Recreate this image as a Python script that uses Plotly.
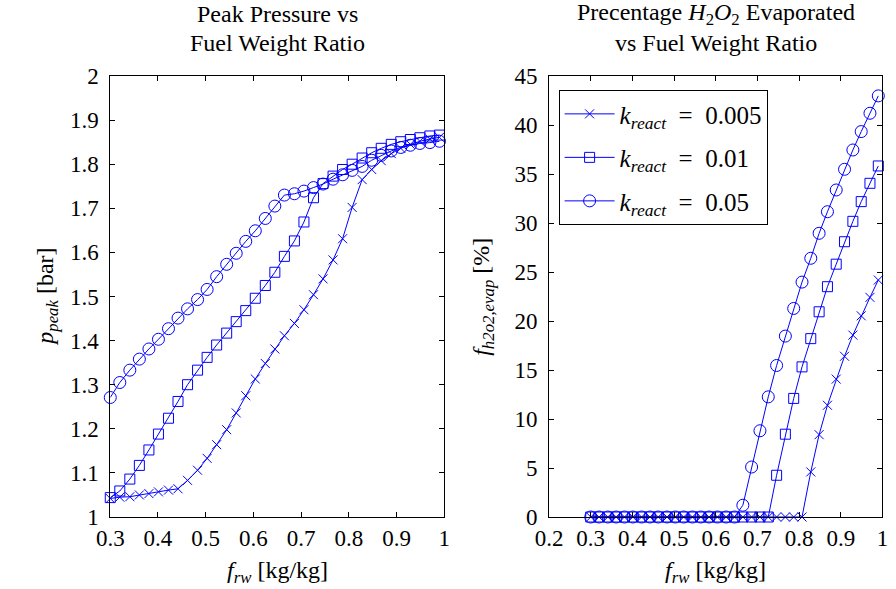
import plotly.graph_objects as go

# Fuel weight ratio grid shared by all runs
f_rw = [0.300, 0.320, 0.341, 0.361, 0.381, 0.401, 0.422, 0.442, 0.462, 0.483,
        0.503, 0.523, 0.544, 0.564, 0.584, 0.604, 0.625, 0.645, 0.665, 0.686,
        0.706, 0.726, 0.746, 0.767, 0.787, 0.807, 0.828, 0.848, 0.868, 0.889,
        0.909, 0.929, 0.949, 0.970, 0.990]

# Peak pressure [bar]
p_peak_k0005 = [1.042, 1.045, 1.046, 1.050, 1.053, 1.057, 1.061, 1.064, 1.083, 1.106,
                1.133, 1.164, 1.198, 1.236, 1.275, 1.313, 1.348, 1.381, 1.411, 1.439,
                1.470, 1.504, 1.540, 1.583, 1.631, 1.702, 1.765, 1.788, 1.808, 1.824,
                1.836, 1.845, 1.852, 1.857, 1.861]
p_peak_k001 = [1.044, 1.059, 1.086, 1.117, 1.152, 1.188, 1.224, 1.262, 1.300, 1.333,
               1.362, 1.390, 1.417, 1.443, 1.468, 1.496, 1.525, 1.555, 1.591, 1.626,
               1.669, 1.724, 1.756, 1.773, 1.788, 1.800, 1.814, 1.826, 1.836, 1.845,
               1.851, 1.856, 1.860, 1.864, 1.866]
p_peak_k005 = [1.271, 1.305, 1.333, 1.358, 1.381, 1.403, 1.427, 1.451, 1.472, 1.493,
               1.516, 1.545, 1.573, 1.598, 1.625, 1.649, 1.677, 1.705, 1.730, 1.733,
               1.739, 1.747, 1.755, 1.766, 1.776, 1.786, 1.795, 1.809, 1.820, 1.830,
               1.838, 1.843, 1.847, 1.849, 1.852]

# Percentage of H2O2 evaporated [%]
evap_k0005 = [0, 0, 0, 0, 0, 0, 0, 0, 0, 0,
              0, 0, 0, 0, 0, 0, 0, 0, 0, 0,
              0, 0, 0, 0, 0, 0, 4.6, 8.4, 11.4, 14.07,
              16.4, 18.56, 20.53, 22.41, 24.18]
evap_k001 = [0, 0, 0, 0, 0, 0, 0, 0, 0, 0,
             0, 0, 0, 0, 0, 0, 0, 0, 0, 0,
             0, 0, 4.26, 8.45, 12.1, 15.32, 18.2, 20.94, 23.5, 25.8,
             28.09, 30.17, 32.18, 34.05, 35.82]
evap_k005 = [0, 0, 0, 0, 0, 0, 0, 0, 0, 0,
             0, 0, 0, 0, 0, 0, 0, 0, 1.2, 5.1,
             8.8, 12.26, 15.46, 18.46, 21.28, 23.97, 26.4, 28.95, 31.15, 33.37,
             35.48, 37.45, 39.33, 41.2, 42.97]

series_names = ["<i>k</i><sub><i>react</i></sub>&nbsp; = &nbsp;0.005",
                "<i>k</i><sub><i>react</i></sub>&nbsp; = &nbsp;0.01",
                "<i>k</i><sub><i>react</i></sub>&nbsp; = &nbsp;0.05"]
symbols = ["x-thin-open", "square-open", "circle-open"]
marker_sizes = [9, 10, 12]

left_xticks = [0.3, 0.4, 0.5, 0.6, 0.7, 0.8, 0.9, 1.0]
left_xlabels = ["0.3", "0.4", "0.5", "0.6", "0.7", "0.8", "0.9", "1"]
left_yticks = [1.0, 1.1, 1.2, 1.3, 1.4, 1.5, 1.6, 1.7, 1.8, 1.9, 2.0]
left_ylabels = ["1", "1.1", "1.2", "1.3", "1.4", "1.5", "1.6", "1.7", "1.8", "1.9", "2"]
right_xticks = [0.2, 0.3, 0.4, 0.5, 0.6, 0.7, 0.8, 0.9, 1.0]
right_xlabels = ["0.2", "0.3", "0.4", "0.5", "0.6", "0.7", "0.8", "0.9", "1"]
right_yticks = [0, 5, 10, 15, 20, 25, 30, 35, 40, 45]
right_ylabels = ["0", "5", "10", "15", "20", "25", "30", "35", "40", "45"]

BLUE = "rgb(0,0,255)"
FONT = "Liberation Serif"
FS = 23

LEFT_DOM = [0.1099, 0.4911]
RIGHT_DOM = [0.6108, 0.9914]

fig = go.Figure()

left_data = [p_peak_k0005, p_peak_k001, p_peak_k005]
right_data = [evap_k0005, evap_k001, evap_k005]

for i in range(3):
    fig.add_trace(go.Scatter(
        x=f_rw, y=left_data[i], mode="lines+markers",
        line=dict(color=BLUE, width=1),
        marker=dict(symbol=symbols[i], size=marker_sizes[i], color=BLUE,
                    line=dict(color=BLUE, width=1)),
        name=series_names[i], showlegend=False,
        xaxis="x", yaxis="y", cliponaxis=False))

for i in range(3):
    fig.add_trace(go.Scatter(
        x=f_rw, y=right_data[i], mode="lines+markers",
        line=dict(color=BLUE, width=1),
        marker=dict(symbol=symbols[i], size=marker_sizes[i], color=BLUE,
                    line=dict(color=BLUE, width=1)),
        name=series_names[i], legendgroup=f"g{i}", showlegend=True,
        xaxis="x2", yaxis="y2", cliponaxis=False))

axis_common = dict(showline=True, linecolor="black", linewidth=1, mirror="ticks",
                   ticks="inside", ticklen=5, tickwidth=1, tickcolor="black",
                   showgrid=False, zeroline=False,
                   tickfont=dict(family=FONT, size=FS, color="black"))

fig.update_layout(
    width=896, height=589,
    margin=dict(l=0, r=0, t=76, b=72),
    paper_bgcolor="white", plot_bgcolor="white",
    font=dict(family=FONT, size=FS, color="black"),
    xaxis=dict(domain=LEFT_DOM, range=[0.3, 1.0], anchor="y",
               tickvals=left_xticks, ticktext=left_xlabels, **axis_common),
    yaxis=dict(domain=[0, 1], range=[1.0, 2.0], anchor="x",
               tickvals=left_yticks, ticktext=left_ylabels,
               ticklabelstandoff=6, **axis_common),
    xaxis2=dict(domain=RIGHT_DOM, range=[0.2, 1.0], anchor="y2",
                tickvals=right_xticks, ticktext=right_xlabels, **axis_common),
    yaxis2=dict(domain=[0, 1], range=[0, 45], anchor="x2",
                tickvals=right_yticks, ticktext=right_ylabels,
                ticklabelstandoff=6, **axis_common),
    legend=dict(x=0.6217, y=0.968, xanchor="left", yanchor="top",
                bordercolor="black", borderwidth=1, bgcolor="white",
                font=dict(family=FONT, size=25, color="black"),
                itemwidth=50, tracegroupgap=8),
)

text_font = dict(family=FONT, size=24, color="black")
annotations = [
    # subplot titles, one annotation per line
    dict(text="Peak Pressure vs", x=sum(LEFT_DOM) / 2, yshift=62),
    dict(text="Fuel Weight Ratio", x=sum(LEFT_DOM) / 2, yshift=33),
    dict(text="Precentage <i>H</i><sub>2</sub><i>O</i><sub>2</sub> Evaporated",
         x=sum(RIGHT_DOM) / 2, yshift=62),
    dict(text="vs Fuel Weight Ratio", x=sum(RIGHT_DOM) / 2, yshift=33),
]
for a in annotations:
    a.update(xref="paper", yref="paper", y=1, xanchor="center", yanchor="middle",
             showarrow=False, font=text_font)

# axis titles
annotations += [
    dict(text="<i>f</i><sub><i>rw</i></sub> [kg/kg]", xref="paper", yref="paper",
         x=sum(LEFT_DOM) / 2, y=0, yshift=-55, xanchor="center", yanchor="middle",
         showarrow=False, font=text_font),
    dict(text="<i>f</i><sub><i>rw</i></sub> [kg/kg]", xref="paper", yref="paper",
         x=sum(RIGHT_DOM) / 2, y=0, yshift=-55, xanchor="center", yanchor="middle",
         showarrow=False, font=text_font),
    dict(text="<i>p</i><sub><i>peak</i></sub> [bar]", xref="paper", yref="paper",
         x=33 / 896, y=0.5, xanchor="center", yanchor="middle", textangle=-90,
         showarrow=False, font=text_font),
    dict(text="<i>f</i><sub><i>h2o2,evap</i></sub> [%]", xref="paper", yref="paper",
         x=479 / 896, y=0.5, xanchor="center", yanchor="middle", textangle=-90,
         showarrow=False, font=text_font),
]
fig.update_layout(annotations=annotations)

fig.write_html("out.html")
